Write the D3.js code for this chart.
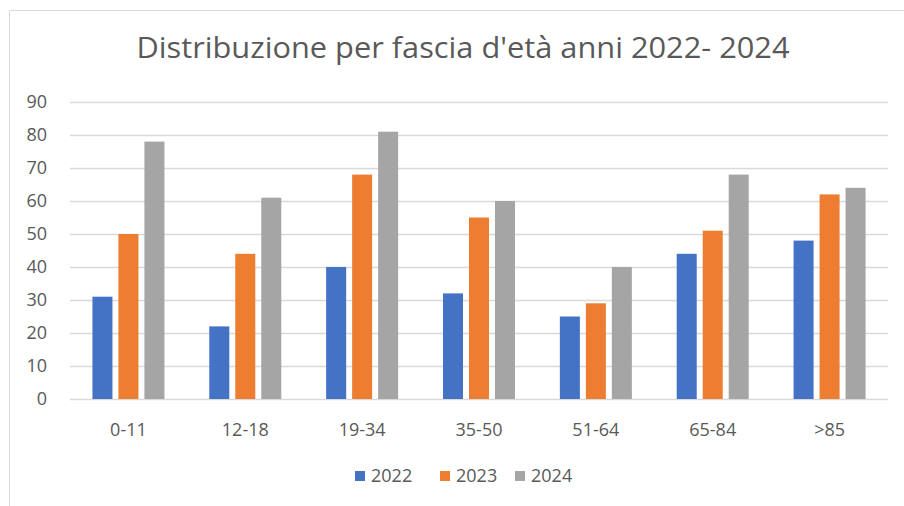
<!DOCTYPE html>
<html>
<head>
<meta charset="utf-8">
<script src="https://cdn.jsdelivr.net/npm/d3@7"></script>
<style>
  body { margin: 0; background: #fff; }
  svg { display: block; font-family: 'Open Sans', sans-serif; }
</style>
</head>
<body>
<div id="chart"></div>
<script>
const categories = ['0-11', '12-18', '19-34', '35-50', '51-64', '65-84', '>85'];
const seriesNames = ['2022', '2023', '2024'];
const values2022 = [31, 22, 40, 32, 25, 44, 48];
const values2023 = [50, 44, 68, 55, 29, 51, 62];
const values2024 = [78, 61, 81, 60, 40, 68, 64];
const yTicks = [0, 10, 20, 30, 40, 50, 60, 70, 80, 90];
const colors = ['#4472C4', '#ED7D31', '#A5A5A5'];

const series = [values2022, values2023, values2024];
const width = 904, height = 506;
const margin = { top: 102, right: 16, bottom: 107, left: 70 };

const svg = d3.select('#chart').append('svg')
    .attr('width', width)
    .attr('height', height);

// chart frame (only top and left edges are visible in the original)
svg.append('path')
    .attr('d', `M9.5,${height} V10.5 H${width}`)
    .attr('fill', 'none')
    .attr('stroke', '#d9d9d9')
    .attr('stroke-width', 1);

svg.append('text')
    .attr('x', 463)
    .attr('y', 58)
    .attr('text-anchor', 'middle')
    .attr('fill', '#595959')
    .style('font-size', '29px')
    .attr('textLength', 653)
    .attr('lengthAdjust', 'spacingAndGlyphs')
    .text("Distribuzione per fascia d'età anni 2022- 2024");

const x0 = d3.scaleBand()
    .domain(categories)
    .range([margin.left, width - margin.right]);

const x1 = d3.scaleBand()
    .domain(seriesNames)
    .range([0, 72])
    .paddingInner(0.23);

const y = d3.scaleLinear()
    .domain([0, 90])
    .range([height - margin.bottom, margin.top]);

// gridlines
svg.append('g')
    .selectAll('line')
    .data(yTicks)
    .join('line')
    .attr('x1', margin.left)
    .attr('x2', width - margin.right)
    .attr('y1', d => Math.round(y(d)) + 0.5)
    .attr('y2', d => Math.round(y(d)) + 0.5)
    .attr('stroke', '#d9d9d9')
    .attr('stroke-width', 1.3);

// y labels
const yAxis = svg.append('g')
    .attr('transform', `translate(${margin.left},0)`)
    .call(d3.axisLeft(y).tickValues(yTicks).tickSize(0).tickPadding(23));
yAxis.select('.domain').remove();
yAxis.selectAll('text')
    .attr('fill', '#595959')
    .style('font-size', '18px')
    .style('font-family', "'Open Sans', sans-serif");

// bars
const groups = svg.append('g')
    .selectAll('g')
    .data(categories)
    .join('g')
    .attr('transform', d => `translate(${x0(d) + (x0.bandwidth() - 72) / 2},0)`);

groups.selectAll('rect')
    .data((d, i) => seriesNames.map((s, j) => ({ s, j, v: series[j][i] })))
    .join('rect')
    .attr('x', d => x1(d.s))
    .attr('width', x1.bandwidth())
    .attr('y', d => y(d.v))
    .attr('height', d => y(0) - y(d.v))
    .attr('fill', d => colors[d.j]);

// x labels
const xAxis = svg.append('g')
    .attr('transform', `translate(0,${y(0)})`)
    .call(d3.axisBottom(x0).tickSize(0).tickPadding(24));
xAxis.select('.domain').remove();
xAxis.selectAll('text')
    .attr('fill', '#595959')
    .style('font-size', '18px')
    .style('font-family', "'Open Sans', sans-serif");

// legend
const legendX = [355, 440, 515];
const legend = svg.append('g')
    .selectAll('g')
    .data(seriesNames)
    .join('g')
    .attr('transform', (d, i) => `translate(${legendX[i]},471)`);

legend.append('rect')
    .attr('width', 10)
    .attr('height', 10)
    .attr('fill', (d, i) => colors[i]);

legend.append('text')
    .attr('x', 16)
    .attr('y', 11)
    .attr('fill', '#595959')
    .style('font-size', '18px')
    .text(d => d);
</script>
</body>
</html>
